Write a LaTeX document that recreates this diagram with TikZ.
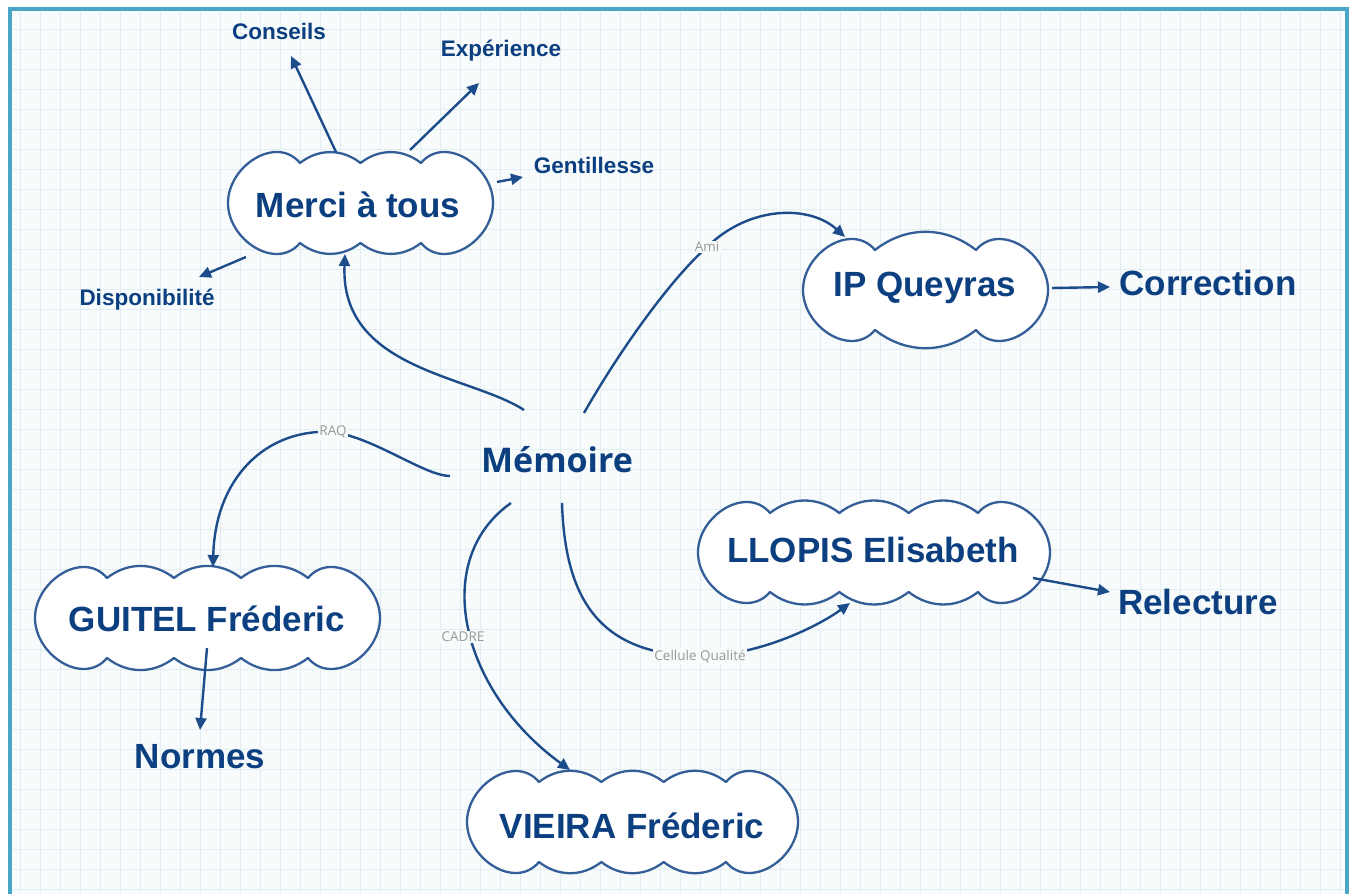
\documentclass[tikz,border=0pt]{standalone}
\usepackage{fontspec}
\setmainfont{Liberation Sans}
\newfontfamily\memfont{Open Sans}
\usetikzlibrary{arrows.meta}

\definecolor{ink}{HTML}{0C3F80}
\definecolor{wire}{HTML}{1D4C8B}
\definecolor{paper}{HTML}{F8FBFC}
\definecolor{gridc}{HTML}{E3EEF3}
\definecolor{frame}{HTML}{4AA6C6}
\definecolor{tagc}{HTML}{989898}

\tikzset{
  cloudline/.style={draw=wire!90, line width=2.3pt, fill=white, line join=round},
  bigword/.style={text=ink, font=\fontsize{35}{40}\selectfont\bfseries, inner sep=0pt},
  smallword/.style={text=ink, font=\fontsize{22.5}{26}\selectfont\bfseries, inner sep=0pt},
  hubword/.style={text=ink, font=\memfont\fontsize{34}{38}\selectfont\bfseries, inner sep=0pt},
  tagword/.style={text=tagc, font=\memfont\fontsize{13.5}{15}\selectfont, fill=paper, inner sep=1.5pt},
  link/.style={draw=wire, line width=2.4pt, -{Triangle[length=12pt,width=11pt]}},
}

% cloud outline: left x, bottom y, right x, top y, number of middle bumps
\newcommand\cloudbox[5]{%
  \pgfmathsetmacro\cxA{#1+72}\pgfmathsetmacro\cxB{#3-72}%
  \pgfmathsetmacro\cxS{(\cxB-\cxA)/#5}%
  \pgfmathsetmacro\cyM{(#2+#4)/2}%
  \pgfmathsetmacro\cyT{#4-10}\pgfmathsetmacro\cyB{#2+10}%
  \draw[cloudline] (\cxA,\cyT)
    \foreach \k in {1,...,#5}{ to[out=38,in=142] ({\cxA+\k*\cxS},\cyT) }
    to[out=50,in=90,looseness=1.15] (#3,\cyM)
    to[out=-90,in=-50,looseness=1.15] (\cxB,\cyB)
    \foreach \k in {1,...,#5}{ to[out=-142,in=-38] ({\cxB-\k*\cxS},\cyB) }
    to[out=-130,in=-90,looseness=1.15] (#1,\cyM)
    to[out=90,in=130,looseness=1.15] (\cxA,\cyT) -- cycle;
}

\begin{document}
\begin{tikzpicture}[x=1pt,y=1pt]
  \useasboundingbox (0,0) rectangle (1357,894);
  \fill[white] (0,0) rectangle (1357,894);
  % squared paper
  \fill[paper] (10,0) rectangle (1347,885);
  \begin{scope}
    \clip (10,0) rectangle (1347,885);
    \foreach \gx in {0,20,...,1360} { \draw[gridc, line width=0.9pt] (\gx,0) -- (\gx,894); }
    \foreach \gy in {5,25,...,885} { \draw[gridc, line width=0.9pt] (0,\gy) -- (1357,\gy); }
  \end{scope}
  % frame, open at the bottom
  \draw[frame, line width=4.5pt] (10,0) -- (10,885) -- (1347,885) -- (1347,0);

  % clouds
  \cloudbox{228}{641}{493}{741}{2}
  \cloudbox{803}{554}{1048}{654}{1}
  \cloudbox{698}{292}{1050}{391}{3}
  \cloudbox{35}{226}{380}{326}{3}
  \cloudbox{467}{22}{798}{122}{3}

  % words
  \node[hubword]   (memoire)    at (557,434) {Mémoire};
  \node[bigword]   (merci)      at (358,689) {Merci à tous};
  \node[bigword]   (ipq)        at (925,606) {IP Queyras};
  \node[bigword]   (llopis)     at (873,344) {LLOPIS Elisabeth};
  \node[bigword]   (guitel)     at (207,275) {GUITEL Fréderic};
  \node[bigword]   (vieira)     at (632,68)  {VIEIRA Fréderic};
  \node[bigword]   (correction) at (1208,611) {Correction};
  \node[bigword]   (relecture)  at (1198,292) {Relecture};
  \node[bigword]   (normes)     at (200,137) {Normes};
  \node[smallword] (conseils)   at (279,863) {Conseils};
  \node[smallword] (experience) at (501,843) {Expérience};
  \node[smallword] (gentil)     at (594,729) {Gentillesse};
  \node[smallword] (dispo)      at (147,594) {Disponibilité};

  % connector ends
  \coordinate (merci-a) at (336,742);
  \coordinate (conseils-in) at (291,838);
  \coordinate (merci-b) at (410,744);
  \coordinate (experience-in) at (479,811);
  \coordinate (merci-c) at (497,712);
  \coordinate (gentil-in) at (523,717);
  \coordinate (merci-d) at (246,637);
  \coordinate (dispo-in) at (199,617);
  \coordinate (memoire-a) at (524,484);
  \coordinate (merci-in) at (345,640);
  \coordinate (memoire-b) at (584,481);
  \coordinate (ipq-in) at (845,657);
  \coordinate (memoire-c) at (450,418);
  \coordinate (guitel-in) at (213,327);
  \coordinate (memoire-d) at (511,391);
  \coordinate (vieira-in) at (570,124);
  \coordinate (memoire-e) at (562,391);
  \coordinate (llopis-in) at (850,291);
  \coordinate (ipq-out) at (1052,606);
  \coordinate (correction-in) at (1110,607);
  \coordinate (llopis-out) at (1033,316);
  \coordinate (relecture-in) at (1110,302);
  \coordinate (guitel-out) at (207,246);
  \coordinate (normes-in) at (200,164);

  % straight arrows
  \draw[link] (merci-a) -- (conseils-in);
  \draw[link] (merci-b) -- (experience-in);
  \draw[link] (merci-c) -- (gentil-in);
  \draw[link] (merci-d) -- (dispo-in);
  \draw[link] (ipq-out) -- (correction-in);
  \draw[link] (llopis-out) -- (relecture-in);
  \draw[link] (guitel-out) -- (normes-in);

  % curved arrows from the hub
  \draw[link] (memoire-a) .. controls (470,519) and (340,524) .. (merci-in);
  \draw[link] (memoire-b) .. controls (620,544) and (670,614) .. (707,647)
                          .. controls (750,689) and (810,689) .. (ipq-in);
  \draw[link] (memoire-c) .. controls (425,418) and (375,456) .. (333,462)
                          .. controls (265,466) and (215,415) .. (guitel-in);
  \draw[link] (memoire-d) .. controls (430,334) and (460,204) .. (vieira-in);
  \draw[link] (memoire-e) .. controls (565,294) and (600,239) .. (700,238)
                          .. controls (760,238) and (820,269) .. (llopis-in);

  % link captions
  \node[tagword] (tag-ami)   at (707,647) {Ami};
  \node[tagword] (tag-raq)   at (333,462) {RAQ};
  \node[tagword] (tag-cadre) at (463,257) {CADRE};
  \node[tagword] (tag-cq)    at (700,238) {Cellule Qualité};
\end{tikzpicture}
\end{document}
